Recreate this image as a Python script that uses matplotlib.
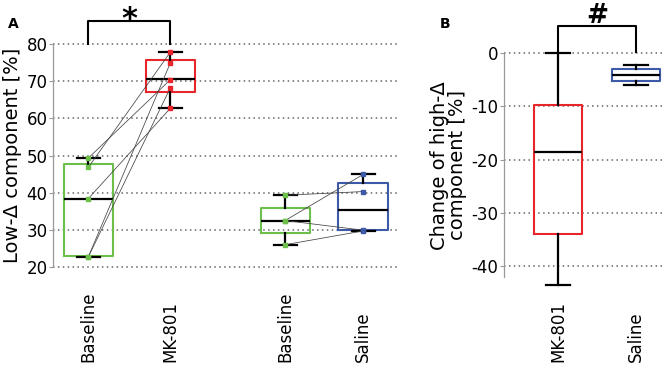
import numpy as np
import matplotlib
matplotlib.use("Agg")
import matplotlib.pyplot as plt
from matplotlib.transforms import blended_transform_factory

plt.rcParams['font.family'] = ['DejaVu Sans']
plt.rcParams['axes.unicode_minus'] = False

# Panel A data
a_labels = ["Baseline", "MK-801", "Baseline", "Saline"]
a_pos = [1, 2, 3.4, 4.35]
a_colors = ["#6cbf4a", "#e8252b", "#6cbf4a", "#3d5aa8"]
# box stats: whislo, q1, med, q3, whishi
a_whislo = [22.7, 62.7, 26.0, 29.6]
a_q1 = [23.0, 67.0, 29.2, 29.9]
a_med = [38.4, 70.5, 32.5, 35.3]
a_q3 = [47.6, 75.6, 35.9, 42.6]
a_whishi = [49.3, 77.8, 39.4, 44.9]

# individual animals (paired)
mk_base = [49.3, 46.8, 38.4, 22.7, 22.7]
mk_drug = [70.4, 77.8, 62.7, 74.9, 68.2]
sal_base = [39.3, 32.5, 32.5, 26.0]
sal_drug = [40.3, 44.9, 29.9, 29.7]

# Panel B data
b_labels = ["MK-801", "Saline"]
b_pos = [1, 2]
b_colors = ["#e8252b", "#3d5aa8"]
b_whislo = [-43.5, -5.9]
b_q1 = [-34.0, -5.2]
b_med = [-18.5, -4.1]
b_q3 = [-9.7, -3.0]
b_whishi = [0.0, -2.2]


def make_stats(lo, q1, med, q3, hi):
    return [dict(whislo=lo[i], q1=q1[i], med=med[i], q3=q3[i], whishi=hi[i])
            for i in range(len(med))]


def draw_boxes(ax, stats, pos, colors, width, capw):
    art = ax.bxp(stats, positions=pos, widths=width, capwidths=capw,
                 showfliers=False, manage_ticks=False,
                 medianprops=dict(color="black", lw=1.6),
                 whiskerprops=dict(color="black", lw=1.6),
                 capprops=dict(color="black", lw=1.6),
                 boxprops=dict(lw=1.5))
    for b, c in zip(art["boxes"], colors):
        b.set_color(c)
    for k in ("whiskers", "caps", "medians", "boxes"):
        for a in art[k]:
            a.set_clip_on(False)
            a.set_zorder(3)
    return art


def style_axis(ax):
    for s in ("top", "right", "bottom"):
        ax.spines[s].set_visible(False)
    ax.spines["left"].set_color("#999999")
    ax.spines["left"].set_linewidth(0.9)
    ax.tick_params(axis="y", colors="#999999", labelcolor="black",
                   labelsize=12, length=3, width=0.8, pad=1)
    ax.tick_params(axis="x", bottom=False, labelbottom=False)
    ax.yaxis.grid(True, linestyle=(0, (1, 2.2)), color="#666666", lw=1.1)
    for gl in ax.get_ygridlines():
        gl.set_clip_on(False)
    ax.set_axisbelow(True)


fig = plt.figure(figsize=(6.65, 3.70), dpi=100)
trans_fig = fig.transFigure

# ---- Panel A
axA = fig.add_axes([0.0797, 0.2784, 0.5218, 0.6026])
axA.set_xlim(0.57, 4.8)
axA.set_ylim(20, 80)
axA.set_yticks([20, 30, 40, 50, 60, 70, 80])
style_axis(axA)

draw_boxes(axA, make_stats(a_whislo, a_q1, a_med, a_q3, a_whishi),
           a_pos, a_colors, 0.6, 0.28)

for y0, y1 in zip(mk_base, mk_drug):
    axA.plot([a_pos[0], a_pos[1]], [y0, y1], color="#444444", lw=0.55, zorder=4)
for y0, y1 in zip(sal_base, sal_drug):
    axA.plot([a_pos[2], a_pos[3]], [y0, y1], color="#444444", lw=0.55, zorder=4)

for i, vals in enumerate([mk_base, mk_drug, sal_base, sal_drug]):
    axA.plot([a_pos[i]] * len(vals), vals, "s", color=a_colors[i],
             ms=3.2, mec=a_colors[i], zorder=5, clip_on=False)

axA.set_ylabel("Low-Δ component [%]", fontsize=14, labelpad=3)

tA = blended_transform_factory(axA.transData, trans_fig)
for p, lab in zip(a_pos, a_labels):
    axA.text(p, 0.022, lab, transform=tA, rotation=90, ha="center",
             va="bottom", fontsize=12)

# significance bracket
axA.plot([a_pos[0], a_pos[0], a_pos[1], a_pos[1]], [80, 86.3, 86.3, 80],
         color="black", lw=1.5, clip_on=False)
axA.text((a_pos[0] + a_pos[1]) / 2, 84.2, "*", ha="center", va="baseline",
         fontsize=22, fontweight="bold")
fig.text(0.012, 0.935, "A", fontsize=10, fontweight="bold", ha="left", va="center")

# ---- Panel B
axB = fig.add_axes([0.7579, 0.2505, 0.2421, 0.6055])
axB.set_xlim(0.31, 2.37)
axB.set_ylim(-42.1, 0)
axB.set_yticks([-40, -30, -20, -10, 0])
style_axis(axB)

draw_boxes(axB, make_stats(b_whislo, b_q1, b_med, b_q3, b_whishi),
           b_pos, b_colors, 0.62, 0.31)

axB.set_ylabel("Change of high-Δ\ncomponent [%]", fontsize=14, labelpad=3,
               linespacing=0.95)

tB = blended_transform_factory(axB.transData, trans_fig)
for p, lab in zip(b_pos, b_labels):
    axB.text(p, 0.022, lab, transform=tB, rotation=90, ha="center",
             va="bottom", fontsize=12)

axB.plot([b_pos[0], b_pos[0], b_pos[1], b_pos[1]], [0.3, 5.05, 5.05, 0.3],
         color="black", lw=1.5, clip_on=False)
axB.text((b_pos[0] + b_pos[1]) / 2, 5.7, "#", ha="center", va="baseline",
         fontsize=19, fontweight="bold")
fig.text(0.662, 0.935, "B", fontsize=10, fontweight="bold", ha="left", va="center")

fig.savefig("out.png", dpi=100)
